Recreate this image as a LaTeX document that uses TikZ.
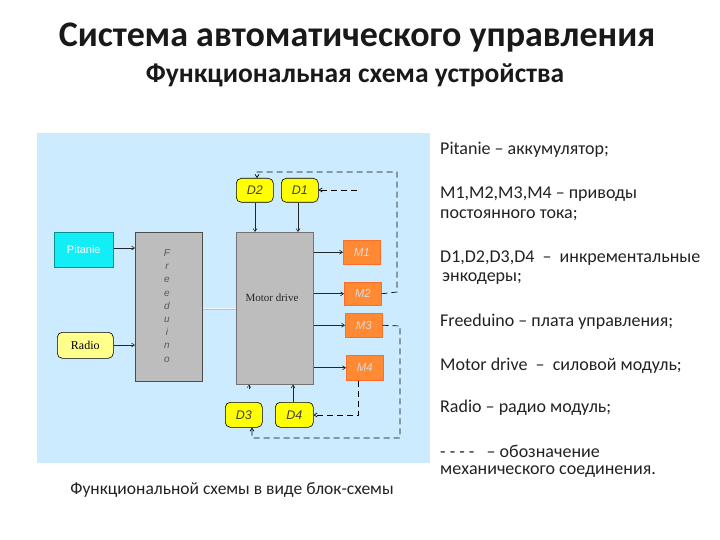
\documentclass[tikz,border=0pt]{standalone}
\usepackage{fontspec}
\setmainfont{Carlito}
\newfontfamily\serifb{Liberation Serif}
\newfontfamily\sansb{Liberation Sans}
\usetikzlibrary{arrows.meta}
\definecolor{panel}{HTML}{CCEBFF}
\definecolor{cyanb}{HTML}{12EEF5}
\definecolor{yelb}{HTML}{FFFF00}
\definecolor{orab}{HTML}{FF8A33}
\definecolor{grayb}{HTML}{BDBDBD}
\definecolor{txt}{HTML}{222222}
\tikzset{
  blk/.style={draw=#1!60!black, line width=0.6pt, anchor=north west, inner sep=0pt},
  dblk/.style={fill=yelb, draw=black, line width=0.6pt, rounded corners=5pt, anchor=north west, inner sep=0pt,
     font=\sansb\itshape\fontsize{12.5}{12.5}\selectfont, text=black!75},
  mblk/.style={fill=orab, draw=orab!80!red, line width=0.5pt, anchor=north west, inner sep=0pt,
     font=\sansb\itshape\fontsize{11.5}{11.5}\selectfont, text=white!85!black},
  conn/.style={-{Straight Barb[length=3pt,width=4pt]}, line width=0.6pt, draw=black!85},
  mech/.style={-{Straight Barb[length=3pt,width=4pt]}, line width=0.7pt, dash pattern=on 6pt off 4pt, draw=black},
  rtext/.style={anchor=west, font=\fontsize{18}{18}\selectfont, text=txt, inner sep=0pt},
}
\begin{document}
\begin{tikzpicture}[x=1pt,y=-1pt]
\useasboundingbox (0,0) rectangle (720,540);
\fill[white] (0,0) rectangle (720,540);

% titles
\node[font=\bfseries\fontsize{36}{36}\selectfont, text=black!90] (title) at (357,38) {Система автоматического управления};
\node[font=\bfseries\fontsize{27.5}{27.5}\selectfont, text=black!90] (subtitle) at (355,75) {Функциональная схема устройства};

% panel
\fill[panel] (37,133) rectangle (430,463);

% blocks
\node[blk=cyanb, fill=cyanb, minimum width=59pt, minimum height=35pt, font=\sansb\fontsize{11}{11}\selectfont, text=white] (pit) at (54,232) {Pitanie};
\node[fill=yelb!45!white, draw=black, line width=0.6pt, rounded corners=5pt, anchor=north west, inner sep=0pt,
      minimum width=56pt, minimum height=26pt, font=\serifb\fontsize{12}{12}\selectfont] (radio) at (57,332) {Radio};
\node[blk=grayb, fill=grayb, draw=black!70, minimum width=67pt, minimum height=149pt] (fr) at (135,232) {};
\node[font=\sansb\itshape\fontsize{10}{13.2}\selectfont, text=black!65, align=center] (frt) at (167,306) {F\\r\\e\\e\\d\\u\\i\\n\\o};
\node[blk=grayb, fill=grayb, draw=black!55, minimum width=77pt, minimum height=152pt] (md) at (236,232) {};
\node[font=\serifb\fontsize{11}{11}\selectfont, text=black!85] (mdt) at (272,298) {Motor drive};

\node[dblk, minimum width=37pt, minimum height=24pt] (d2) at (236,178) {D2};
\node[dblk, minimum width=37pt, minimum height=24pt] (d1) at (281,178) {D1};
\node[dblk, minimum width=37pt, minimum height=25pt] (d3) at (225,402) {D3};
\node[dblk, minimum width=38pt, minimum height=25pt] (d4) at (275,402) {D4};

\node[mblk, minimum width=37pt, minimum height=24pt] (m1) at (343,240) {M1};
\node[mblk, minimum width=37pt, minimum height=23pt] (m2) at (344,282) {M2};
\node[mblk, minimum width=37pt, minimum height=24pt] (m3) at (345,313) {M3};
\node[mblk, minimum width=37pt, minimum height=25pt] (m4) at (346,355) {M4};

% signal connectors
\draw[conn] (pit.east |- 0,248) -- (fr.west |- 0,248);
\draw[conn] (radio.east |- 0,345) -- (fr.west |- 0,345);
\draw[line width=1.6pt, draw=white!70!panel] (fr.east |- 0,309) -- (md.west |- 0,309);
\draw[line width=0.4pt, draw=black!25] (fr.east |- 0,309) -- (md.west |- 0,309);
\draw[conn] (d2.south -| 255,0) -- (md.north -| 255,0);
\draw[conn] (d1.south -| 298,0) -- (md.north -| 298,0);
\draw[conn] (md.east |- m1.west) -- (m1.west);
\draw[conn] (md.east |- m2.west) -- (m2.west);
\draw[conn] (md.east |- m3.west) -- (m3.west);
\draw[conn] (md.east |- m4.west) -- (m4.west);
\draw[conn] (d4.north -| 293,0) -- (md.south -| 293,0);
\coordinate (d3tip) at (249,389);
\draw[conn, line width=0.4pt] (d3tip) -- (md.south -| 249,0);

% mechanical connections
\coordinate (k1) at (357,190);
\draw[mech] (k1) -- (d1.east |- k1);
\draw[mech] (m2.east) -- (397,292) -- (397,172) -- (257,172) -- (d2.north -| 257,0);
\draw[mech] (m3.east) -- (400,326) -- (400,438) -- (252,438) -- (d3.south -| 252,0);
\draw[mech] (m4.south -| 358,0) -- (358,415) -- (d4.east |- 0,415);

% right legend
\node[rtext] (l1) at (440,150) {Pitanie – аккумулятор;};
\node[rtext] (l2) at (440,194) {M1,M2,M3,M4 – приводы};
\node[rtext] (l3) at (440,215) {постоянного тока;};
\node[rtext] (l4) at (440,258) {D1,D2,D3,D4 \ – \ инкрементальные};
\node[rtext] (l5) at (442,279) {энкодеры;};
\node[rtext] (l6) at (440,322) {Freeduino – плата управления;};
\node[rtext] (l7) at (440,366) {Motor drive \ – \ силовой модуль;};
\node[rtext] (l8) at (440,408) {Radio – радио модуль;};
\node[rtext] (l9) at (440,451) {- - - - \ \ – обозначение};
\node[rtext] (l10) at (440,472) {механического соединения.};

% caption
\node[font=\fontsize{17.5}{17.5}\selectfont, text=txt] (cap) at (232,490) {Функциональной схемы в виде блок-схемы};
\end{tikzpicture}
\end{document}
